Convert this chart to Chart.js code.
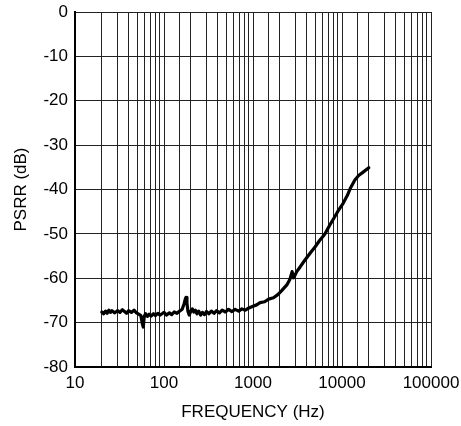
<!DOCTYPE html>
<html>
<head>
<meta charset="utf-8">
<script src="https://cdn.jsdelivr.net/npm/chart.js@4"></script>
<style>
  html, body { margin: 0; padding: 0; background: #fff; }
  #wrap { width: 461px; height: 426px; }
</style>
</head>
<body>
<div id="wrap"><canvas id="psrrChart" width="461" height="426"></canvas></div>
<script>
// PSRR vs frequency
const freqHz = [
  20, 21, 22, 23, 24, 25, 26, 28, 30, 32, 34, 36, 38, 40, 43, 46, 49, 52, 55, 57, 58.5, 60, 62, 65, 68,
  72, 76, 80, 85, 90, 95, 100, 107, 115, 122, 130, 140, 150, 160, 168, 174, 177, 181, 186, 192,
  200, 208, 216, 225, 235, 245, 258, 270, 285, 300, 320, 340, 365, 390, 420, 450, 490, 530, 580,
  630, 690, 750, 820, 900, 1000, 1100, 1200, 1350, 1500, 1700,
  1900, 2100, 2400, 2600, 2750, 2850, 2950, 3100, 3400, 3800, 4400, 5000, 5600, 6400,
  7300, 8200, 9000, 10300, 11500, 12500, 14000, 15500, 17000, 20000
];
const psrrDb = [
  -67.6, -68.0, -67.4, -67.9, -67.2, -67.7, -67.3, -67.8, -67.3, -67.7, -67.1, -67.5, -67.9, -67.3, -67.7, -67.2, -67.8, -68.1, -68.4, -70.2, -71.0, -68.6, -68.0, -68.6, -68.1,
  -68.5, -68.0, -68.4, -67.9, -68.3, -68.0, -67.7, -68.3, -67.8, -68.2, -67.6, -67.9, -67.4, -67.0, -65.8, -64.6, -64.3, -65.6, -67.5, -68.3,
  -67.4, -66.9, -67.6, -67.2, -68.0, -67.4, -68.3, -67.7, -68.2, -67.5, -68.0, -67.4, -67.9, -67.3, -67.8, -67.2, -67.6, -67.0, -67.5,
  -67.0, -67.4, -66.9, -67.2, -66.7, -66.3, -66.0, -65.5, -65.3, -64.7, -64.4,
  -63.7, -62.8, -61.5, -60.2, -58.5, -59.9, -59.4, -58.5, -57.4, -56.0, -54.3, -52.9, -51.5, -50.1,
  -48.0, -46.3, -44.9, -43.1, -41.3, -39.6, -37.8, -36.8, -36.2, -35.1
];
const xDecades = [10, 100, 1000, 10000, 100000];
const yTicks = [0, -10, -20, -30, -40, -50, -60, -70, -80];

const FONT = 'Arial, "Liberation Sans", sans-serif';

const points = freqHz.map((f, i) => ({ x: f, y: psrrDb[i] }));

new Chart(document.getElementById('psrrChart'), {
    type: 'line',
    data: {
        datasets: [{
            data: points,
            borderColor: '#000',
            borderWidth: 3.2,
            borderJoinStyle: 'round',
            borderCapStyle: 'round',
            pointRadius: 0,
            tension: 0
        }]
    },
    options: {
        responsive: false,
        animation: false,
        layout: { padding: { left: 0, right: 30, top: 12, bottom: 0 } },
        plugins: { legend: { display: false }, tooltip: { enabled: false } },
        scales: {
            x: {
                type: 'logarithmic',
                min: 10,
                max: 100000,
                afterFit: (scale) => {
                    scale.height = 59;
                    scale.paddingLeft = 0;
                    scale.paddingRight = 0;
                },
                border: { color: '#000', width: 2 },
                grid: { color: '#222', lineWidth: 1, drawTicks: false },
                ticks: {
                    autoSkip: false,
                    maxRotation: 0,
                    padding: 6,
                    color: '#000',
                    font: { family: FONT, size: 17 },
                    callback: (v) => xDecades.includes(v) ? String(v) : ''
                },
                title: {
                    display: true,
                    text: 'FREQUENCY (Hz)',
                    color: '#000',
                    font: { family: FONT, size: 17 },
                    padding: { top: 0, bottom: 3 }
                }
            },
            y: {
                min: -80,
                max: 0,
                afterFit: (scale) => {
                    scale.width = 75;
                    scale.paddingTop = 0;
                    scale.paddingBottom = 0;
                },
                afterBuildTicks: (scale) => { scale.ticks = yTicks.map(v => ({ value: v })); },
                border: { color: '#000', width: 2 },
                grid: { color: '#222', lineWidth: 1, drawTicks: false },
                ticks: {
                    padding: 7,
                    color: '#000',
                    font: { family: FONT, size: 17 },
                    callback: (v) => String(v)
                },
                title: {
                    display: true,
                    text: 'PSRR (dB)',
                    color: '#000',
                    font: { family: FONT, size: 17 },
                    padding: { top: 11, bottom: 0 }
                }
            }
        }
    }
});
</script>
</body>
</html>
